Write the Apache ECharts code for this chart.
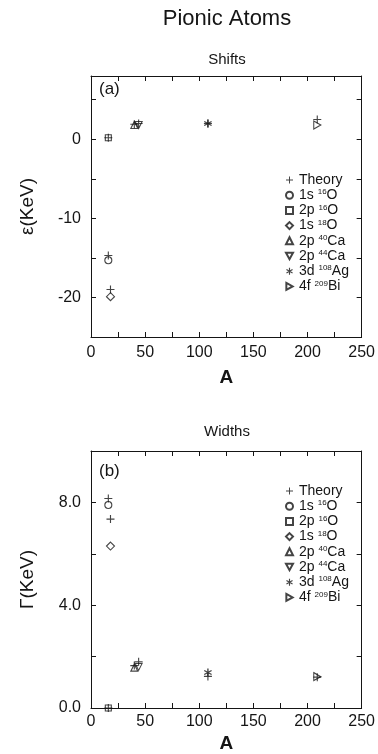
<!DOCTYPE html>
<html>
<head>
<meta charset="utf-8">
<script src="https://cdn.jsdelivr.net/npm/echarts@6/dist/echarts.min.js"></script>
<style>
  html, body { margin: 0; padding: 0; background: #fff; }
  #chart { width: 378px; height: 754px; }
</style>
</head>
<body>
<div id="chart"></div>
<script>
// legend / series names (Theory first, then the seven measured states)
const levels = ['Theory', '1s 16O', '2p 16O', '1s 18O', '2p 40Ca', '2p 44Ca', '3d 108Ag', '4f 209Bi']
// mass number of each measured state
const massA = [16, 16, 18, 40, 44, 108, 209]
// (a) shifts, keV
const shiftExp = [-15.3, 0.2, -19.9, 1.8, 1.8, 2.0, 1.8]
const shiftTheory = [-14.7, 0.2, -19.0, 1.9, 2.0, 2.0, 2.5]
// (b) widths, keV
const widthExp = [7.9, 0.0, 6.3, 1.57, 1.6, 1.38, 1.22]
const widthTheory = [8.15, 0.0, 7.35, 1.65, 1.8, 1.23, 1.2]

const FONT = '"Liberation Sans", Arial, sans-serif'
const INK = '#151515'

// marker shapes
const plusPath = 'path://M4.3,0H5.7V4.3H10V5.7H5.7V10H4.3V5.7H0V4.3H4.3Z'
const starPath = 'path://M4.2,0H5.8V10H4.2Z M0.27,3.19L1.07,1.81L9.73,6.81L8.93,8.19Z M8.93,1.81L9.73,3.19L1.07,8.19L0.27,6.81Z'
const downTri = 'path://M0,0L10,0L5,9Z'
const rightTri = 'path://M0,0L9,5L0,10Z'
const expSymbols = ['circle', 'rect', 'diamond', 'triangle', downTri, starPath, rightTri]
const expSizes = [7, 6, 8, [7, 7], [7, 7], 8, [7, 8]]

let chart = echarts.init(document.getElementById('chart'), null, { renderer: 'canvas' })

const gridTop = [76, 451]
const gridH = 261

function xAxes(gi) {
  const base = {
    gridIndex: gi, type: 'value', min: 0, max: 250, interval: 25,
    axisLine: { show: true, onZero: false, lineStyle: { color: INK, width: 1 } },
    axisTick: { show: true, inside: true, length: 5, lineStyle: { color: INK } },
    splitLine: { show: false }
  }
  return [
    Object.assign({}, base, {
      position: 'bottom',
      name: 'A', nameLocation: 'middle', nameGap: gi === 0 ? 31 : 26,
      nameTextStyle: { fontSize: 19, fontWeight: 'bold', color: INK, fontFamily: FONT },
      axisLabel: {
        margin: gi === 0 ? 8 : 6, fontSize: 16, color: INK, fontFamily: FONT,
        formatter: (v) => (v % 50 === 0 ? String(v) : '')
      }
    }),
    Object.assign({}, base, { position: 'top', axisLabel: { show: false } })
  ]
}

function yAxes(gi, min, max, interval, name, fmt) {
  const base = {
    gridIndex: gi, type: 'value', min: min, max: max, interval: interval,
    axisLine: { show: true, onZero: false, lineStyle: { color: INK, width: 1 } },
    axisTick: { show: true, inside: true, length: 5, lineStyle: { color: INK } },
    splitLine: { show: false }
  }
  return [
    Object.assign({}, base, {
      position: 'left',
      name: name, nameLocation: 'middle', nameGap: 54, nameRotate: 90,
      nameTextStyle: { fontSize: 19, color: INK, fontFamily: FONT },
      axisLabel: { margin: 10, fontSize: 16, color: INK, fontFamily: FONT, formatter: fmt }
    }),
    Object.assign({}, base, { position: 'right', axisLabel: { show: false } })
  ]
}

function buildSeries(gi, expVals, thVals) {
  const out = []
  out.push({
    name: levels[0], type: 'scatter', xAxisIndex: gi * 2, yAxisIndex: gi * 2,
    symbol: plusPath, symbolSize: 8, clip: false, z: 5,
    itemStyle: { color: INK },
    data: massA.map((a, i) => [a, thVals[i]])
  })
  levels.slice(1).forEach((name, i) => {
    const filled = name.indexOf('Ag') >= 0
    out.push({
      name: name, type: 'scatter', xAxisIndex: gi * 2, yAxisIndex: gi * 2,
      symbol: expSymbols[i], symbolSize: expSizes[i], clip: false, z: 3,
      itemStyle: filled ? { color: INK } : { color: 'rgba(255,255,255,0)', borderColor: INK, borderWidth: 1.1 },
      data: [[massA[i], expVals[i]]]
    })
  })
  return out
}

function legendAt(top) {
  return {
    orient: 'vertical', left: 285, top: top, itemWidth: 7, itemHeight: 7, itemGap: 1.2,
    selectedMode: false, padding: 0, data: levels,
    formatter: (name) => name.replace(/(\d+)([A-Z])/, '{sup|$1}$2'),
    textStyle: {
      fontSize: 14, color: INK, fontFamily: FONT, lineHeight: 14, padding: [0, 0, 0, 1],
      rich: { sup: { fontSize: 8, lineHeight: 14, verticalAlign: 'top', color: INK, fontFamily: FONT } }
    }
  }
}

const option = {
  animation: false,
  backgroundColor: '#fff',
  grid: gridTop.map((t) => ({ left: 91, right: 15, top: t, height: gridH, containLabel: false })),
  xAxis: xAxes(0).concat(xAxes(1)),
  yAxis: yAxes(0, -25, 8, 5, 'ε(KeV)', (v) => (v % 10 === 0 && v <= 0 && v >= -20 ? String(v) : ''))
    .concat(yAxes(1, 0, 10, 2, 'Γ(KeV)', (v) => (v % 4 === 0 && v <= 8 ? v.toFixed(1) : ''))),
  legend: [legendAt(173), legendAt(484)],
  series: buildSeries(0, shiftExp, shiftTheory).concat(buildSeries(1, widthExp, widthTheory)),
  graphic: [
    { type: 'text', x: 227, y: 19, style: { text: 'Pionic Atoms', fontSize: 22, fontFamily: FONT, fill: INK, align: 'center', verticalAlign: 'middle' } },
    { type: 'text', x: 227, y: 60, style: { text: 'Shifts', fontSize: 15, fontFamily: FONT, fill: INK, align: 'center', verticalAlign: 'middle' } },
    { type: 'text', x: 227, y: 432, style: { text: 'Widths', fontSize: 15, fontFamily: FONT, fill: INK, align: 'center', verticalAlign: 'middle' } },
    { type: 'text', x: 99, y: 89, style: { text: '(a)', fontSize: 17, fontFamily: FONT, fill: INK, align: 'left', verticalAlign: 'middle' } },
    { type: 'text', x: 99, y: 471, style: { text: '(b)', fontSize: 17, fontFamily: FONT, fill: INK, align: 'left', verticalAlign: 'middle' } }
  ]
}
chart.setOption(option)
</script>
</body>
</html>
